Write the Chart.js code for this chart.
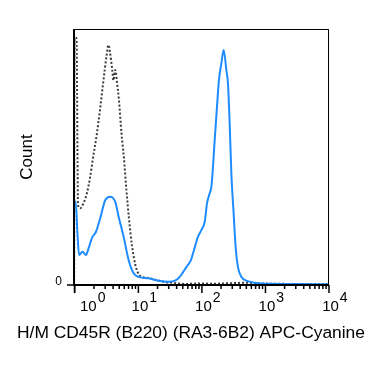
<!DOCTYPE html>
<html>
<head>
<meta charset="utf-8">
<script src="https://cdn.jsdelivr.net/npm/chart.js@4/dist/chart.umd.min.js"></script>
<style>
html,body{margin:0;padding:0;background:#fff;}
#wrap{width:375px;height:366px;position:relative;}
</style>
</head>
<body>
<div id="wrap"><canvas id="c" width="375" height="366"></canvas></div>
<script>
// ---- data ----
const isoX = [0.975, 0.99, 1.06, 1.123, 1.177, 1.22, 1.37, 1.554, 1.732, 1.931, 2.207, 2.487, 2.822, 3.167, 3.381, 3.569, 3.879, 4.052, 4.324, 4.597, 4.942, 5.41, 5.921, 6.481, 7.095, 7.907, 8.973, 10.07, 11.77, 14.46, 18.83, 26.06, 40, 53.7, 92.3, 150, 273, 500, 808, 1500, 2390, 5000, 9780];
const isoY = [0, 96.5, 96.5, 31.3, 30.1, 30, 32, 36, 41.8, 49.6, 58.6, 68.4, 80, 89.8, 93.75, 91, 84, 80, 84, 79.3, 72.3, 59.4, 49.6, 37.1, 26.2, 15.6, 7.8, 4.3, 3.1, 2.7, 2.0, 1.2, 0.7, 0.4, 0.6, 0.5, 0.7, 0.9, 0.6, 0.5, 0.4, 0.3, 0.3];

const stainX = [0.975, 1.03, 1.10, 1.164, 1.321, 1.499, 1.653, 1.862, 2.152, 2.514, 3.012, 3.608, 4.324, 4.889, 5.857, 7.018, 8.408, 10.07, 14.46, 20.76, 29.8, 37.8, 44.8, 57.1, 67.4, 72.5, 86.9, 98.2, 110.7, 120.3, 132.6, 141, 149.4, 158.8, 172.6, 185.5, 202.4, 219.9, 242.4, 256.8, 273.2, 290.5, 315.7, 339.3, 368.7, 417, 499.6, 674.5, 1160, 3430, 9780];
const stainY = [32.5, 32.5, 20, 11.7, 13.0, 11.7, 14.5, 18.4, 20.8, 26.2, 33.2, 34.5, 32.5, 26.7, 18.9, 9.8, 4.6, 3.2, 2.6, 1.7, 1.3, 1.7, 3.2, 7.1, 9.8, 12.4, 18.9, 21.5, 24.7, 31.9, 35.8, 38.4, 46.2, 56.6, 69.6, 80.1, 86.6, 91.8, 84, 78.8, 63.2, 43.6, 28, 15, 7.1, 3.2, 1.7, 0.9, 0.5, 0.4, 0.3];

const majorTicks = [1, 10, 100, 1000, 10000];
const majorExp = ['0', '1', '2', '3', '4'];
const minorMult = [2, 3, 4, 5, 6, 7, 8, 9];
const yTicks = [0];
const xTitle = 'H/M CD45R (B220) (RA3-6B2) APC-Cyanine';
const yTitle = 'Count';

const FONT = "'Liberation Sans', Arial, Helvetica, sans-serif";

const toPts = (xs, ys) => xs.map((x, i) => ({x: x, y: ys[i]}));

const axisPlugin = {
  id: 'flowAxes',
  afterDraw(chart) {
    const ctx = chart.ctx;
    const a = chart.chartArea;
    const xs = chart.scales.x, ys = chart.scales.y;
    ctx.save();
    // frame
    ctx.strokeStyle = '#000';
    ctx.lineWidth = 1;
    ctx.strokeRect(a.left + 0.5, a.top + 0.5, a.right - a.left - 1, a.bottom - a.top);
    ctx.lineWidth = 2;
    ctx.beginPath();
    ctx.moveTo(a.left, a.top); ctx.lineTo(a.left, a.bottom + 1);
    ctx.moveTo(a.left, a.bottom); ctx.lineTo(a.right, a.bottom);
    ctx.stroke();
    // x ticks
    ctx.lineWidth = 1.5;
    ctx.beginPath();
    const minV = xs.min;
    const leftPx = xs.getPixelForValue(minV);
    ctx.moveTo(leftPx + 0.5, a.bottom); ctx.lineTo(leftPx + 0.5, a.bottom + 8);
    majorTicks.forEach(v => {
      if (v < minV) return;
      const p = xs.getPixelForValue(v);
      ctx.moveTo(p, a.bottom); ctx.lineTo(p, a.bottom + 8);
    });
    for (let d = 0; d < 4; d++) {
      minorMult.forEach(m => {
        const v = m * Math.pow(10, d);
        const p = xs.getPixelForValue(v);
        ctx.moveTo(p, a.bottom); ctx.lineTo(p, a.bottom + 4);
      });
    }
    // y tick
    yTicks.forEach(v => {
      const p = ys.getPixelForValue(v);
      ctx.moveTo(a.left - 7, p); ctx.lineTo(a.left, p);
    });
    ctx.stroke();
    // x tick labels 10^n
    ctx.fillStyle = '#000';
    ctx.textBaseline = 'alphabetic';
    majorTicks.forEach((v, i) => {
      const p = xs.getPixelForValue(v);
      ctx.font = '15px ' + FONT;
      const w = ctx.measureText('10').width;
      let cx = Math.max(p + 1.5, a.left + 6 + w / 2);
      ctx.textAlign = 'center';
      ctx.fillText('10', cx, a.bottom + 26);
      ctx.textAlign = 'left';
      ctx.font = '14px ' + FONT;
      ctx.fillText(majorExp[i], cx + w / 2 + 1, a.bottom + 17);
    });
    // y tick labels
    ctx.font = '12px ' + FONT;
    ctx.textAlign = 'right';
    ctx.textBaseline = 'middle';
    yTicks.forEach(v => {
      ctx.fillText(String(v), a.left - 12, ys.getPixelForValue(v) - 3);
    });
    // x title
    ctx.font = '17.4px ' + FONT;
    ctx.textAlign = 'center';
    ctx.textBaseline = 'alphabetic';
    ctx.fillText(xTitle, a.left + 117, a.bottom + 53);
    ctx.restore();
  }
};

new Chart(document.getElementById('c'), {
  type: 'line',
  data: {
    datasets: [
      {
        label: 'Stained',
        data: toPts(stainX, stainY),
        borderColor: 'rgb(30,140,255)',
        borderWidth: 2,
        pointRadius: 0,
        fill: false,
        cubicInterpolationMode: 'monotone'
      },
      {
        label: 'Isotype',
        data: toPts(isoX, isoY),
        borderColor: 'rgb(60,60,60)',
        borderWidth: 2,
        borderDash: [2, 2],
        pointRadius: 0,
        fill: false,
        cubicInterpolationMode: 'monotone'
      }
    ]
  },
  options: {
    responsive: false,
    animation: false,
    devicePixelRatio: 1,
    layout: {padding: {left: 0, top: 29, right: 46, bottom: 0}},
    plugins: {legend: {display: false}, tooltip: {enabled: false}},
    scales: {
      x: {
        type: 'logarithmic',
        min: 0.97,
        max: 10000,
        grid: {display: false, drawTicks: false},
        border: {display: false},
        ticks: {display: false},
        afterFit(s) { s.height = 81; }
      },
      y: {
        type: 'linear',
        min: 0,
        max: 100,
        grid: {display: false, drawTicks: false},
        border: {display: false},
        ticks: {display: false},
        title: {
          display: true,
          text: yTitle,
          color: '#000',
          font: {family: FONT, size: 17},
          padding: {top: 17, bottom: 0}
        },
        afterFit(s) { s.width = 74; }
      }
    }
  },
  plugins: [axisPlugin]
});
</script>
</body>
</html>
